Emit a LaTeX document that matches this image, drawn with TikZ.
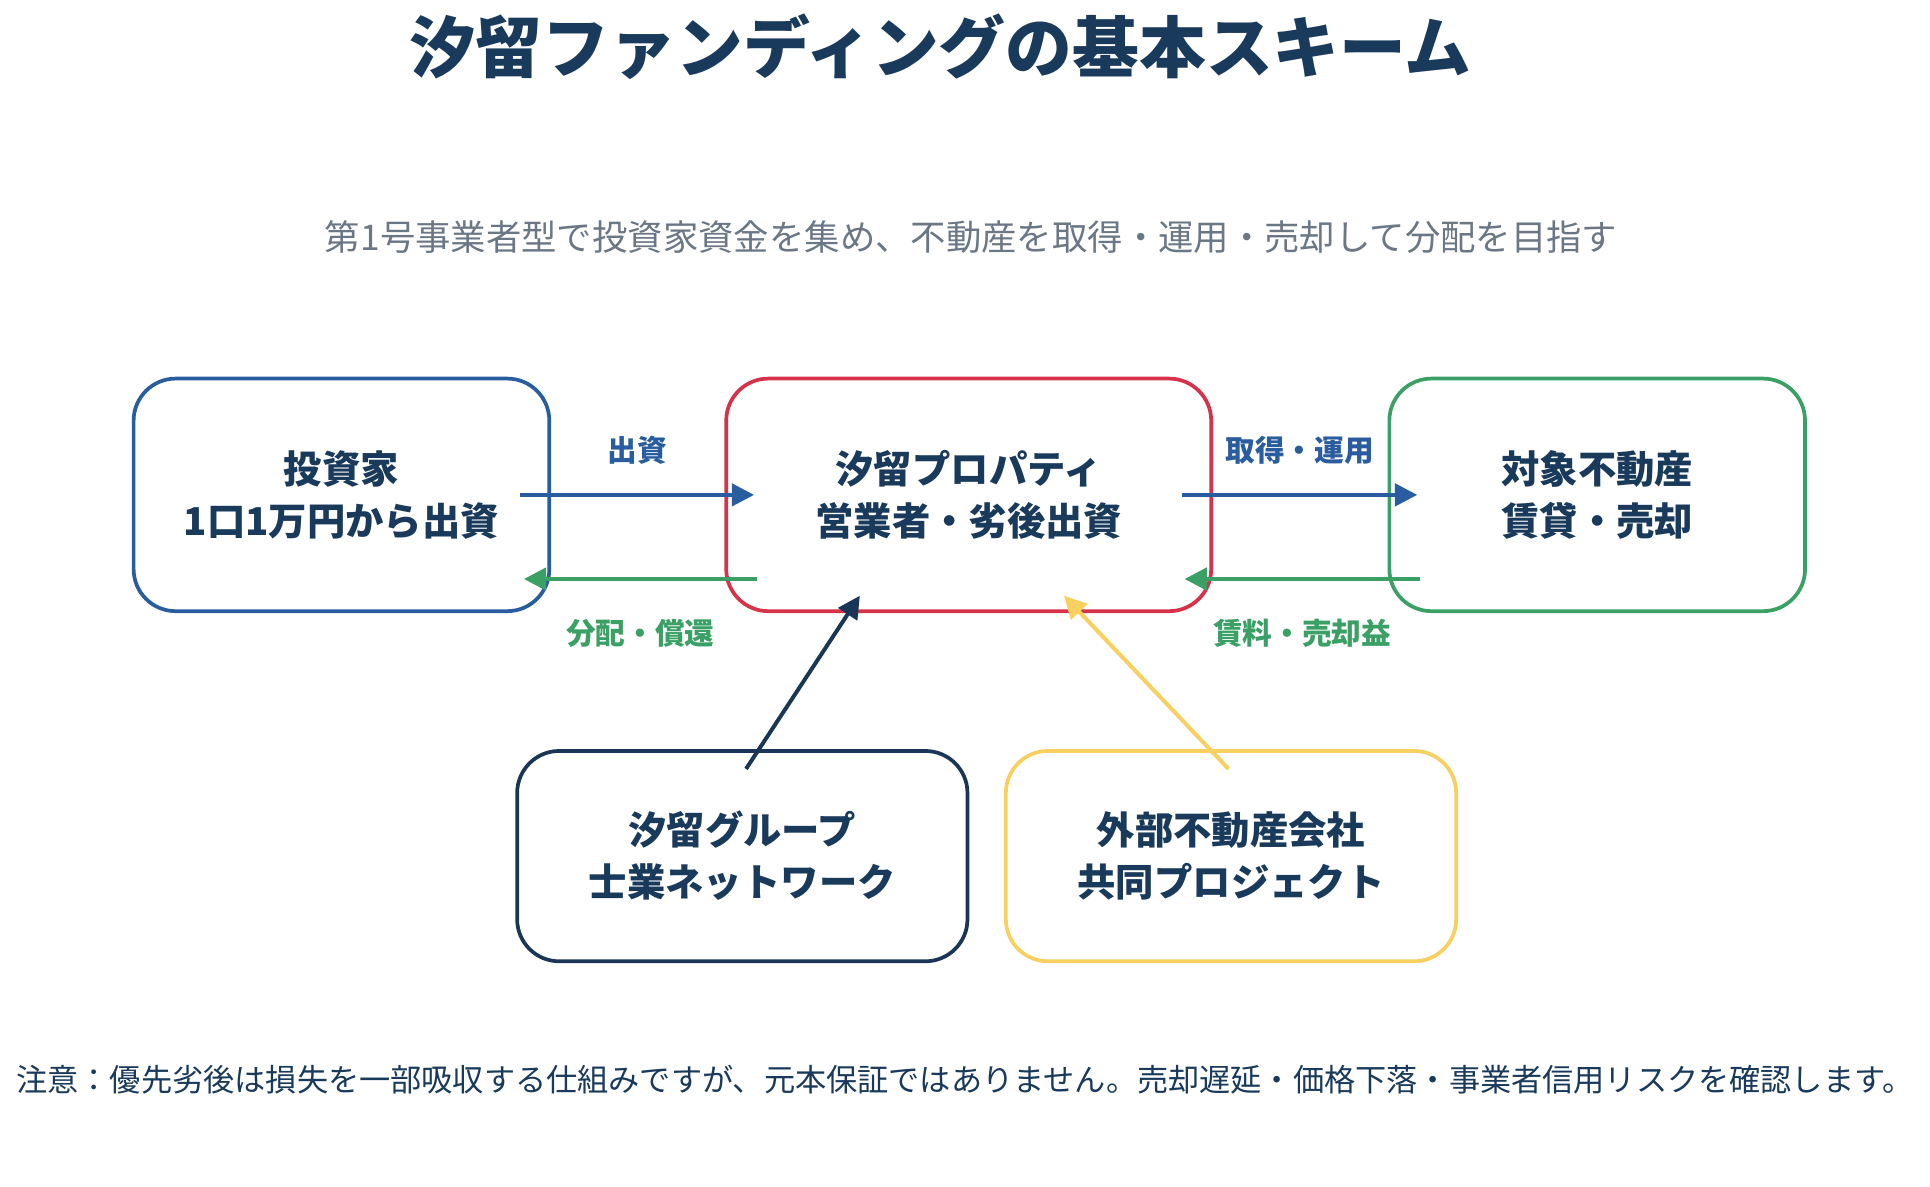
\documentclass[tikz,border=0pt]{standalone}
\usepackage{fontspec}
\setmainfont{Noto Sans CJK JP}
\usetikzlibrary{arrows.meta,calc}
\definecolor{navy}{HTML}{1A3A5C}
\definecolor{invblue}{HTML}{2A5D9F}
\definecolor{opred}{HTML}{D6334A}
\definecolor{estgreen}{HTML}{3AA065}
\definecolor{grpnavy}{HTML}{1A3556}
\definecolor{extyellow}{HTML}{F7D060}
\definecolor{subgray}{HTML}{6B7785}
\begin{document}
\begin{tikzpicture}[x=0.5pt,y=-0.5pt,>={Triangle[length=9pt,width=9pt]},
  box/.style={draw,line width=1.5pt,rounded corners=17pt,fill=white,align=center,
    font=\fontsize{15.5}{21}\selectfont\bfseries,text=navy,inner sep=0pt},
  flow/.style={->,line width=1.6pt},
  lab/.style={font=\fontsize{12}{14}\selectfont\bfseries}]
  \useasboundingbox (0,0) rectangle (1560,959);

  \node[font=\fontsize{27}{32}\selectfont\bfseries,text=navy] (title) at (760,38) {汐留ファンディングの基本スキーム};
  \node[font=\fontsize{14.3}{17}\selectfont,text=subgray] (sub) at (785,192) {第1号事業者型で投資家資金を集め、不動産を取得・運用・売却して分配を目指す};

  \node[box,draw=invblue,minimum width=168pt,minimum height=94pt] (inv) at (276,400) {投資家\\1口1万円から出資};
  \node[box,draw=opred,minimum width=196pt,minimum height=94pt] (op) at (783,400) {汐留プロパティ\\営業者・劣後出資};
  \node[box,draw=estgreen,minimum width=168pt,minimum height=94pt] (est) at (1291,400) {対象不動産\\賃貸・売却};
  \node[box,draw=grpnavy,minimum width=182pt,minimum height=85pt] (grp) at (600,692) {汐留グループ\\士業ネットワーク};
  \node[box,draw=extyellow,minimum width=182pt,minimum height=85pt] (ext) at (995,692) {外部不動産会社\\共同プロジェクト};

  % connectors
  \coordinate (a1) at ($(inv.east)+(-25,0)$);
  \coordinate (a2) at ($(op.west)+(24,0)$);
  \coordinate (b1) at ($(op.west)+(26,68)$);
  \coordinate (b2) at ($(inv.east)+(-22,68)$);
  \coordinate (c1) at ($(op.east)+(-25,0)$);
  \coordinate (c2) at ($(est.west)+(24,0)$);
  \coordinate (d1) at ($(est.west)+(26,68)$);
  \coordinate (d2) at ($(op.east)+(-23,68)$);
  \coordinate (e1) at ($(grp.north)+(3,16)$);
  \coordinate (e2) at ($(op.south)+(-88,-14)$);
  \coordinate (f1) at ($(ext.north)+(-2,16)$);
  \coordinate (f2) at ($(op.south)+(77,-14)$);

  \draw[flow,invblue] (a1) -- node[lab,above=8pt,text=invblue] (l1) {出資} (a2);
  \draw[flow,estgreen] (b1) -- node[lab,below=12pt,text=estgreen] (l2) {分配・償還} (b2);
  \draw[flow,invblue] (c1) -- node[lab,above=8pt,text=invblue] (l3) {取得・運用} (c2);
  \draw[flow,estgreen] (d1) -- node[lab,below=12pt,text=estgreen] (l4) {賃料・売却益} (d2);
  \draw[flow,grpnavy] (e1) -- (e2);
  \draw[flow,extyellow] (f1) -- (f2);

  \node[font=\fontsize{12.6}{15}\selectfont,text=navy] (note) at (780,873) {注意：優先劣後は損失を一部吸収する仕組みですが、元本保証ではありません。売却遅延・価格下落・事業者信用リスクを確認します。};
\end{tikzpicture}
\end{document}
